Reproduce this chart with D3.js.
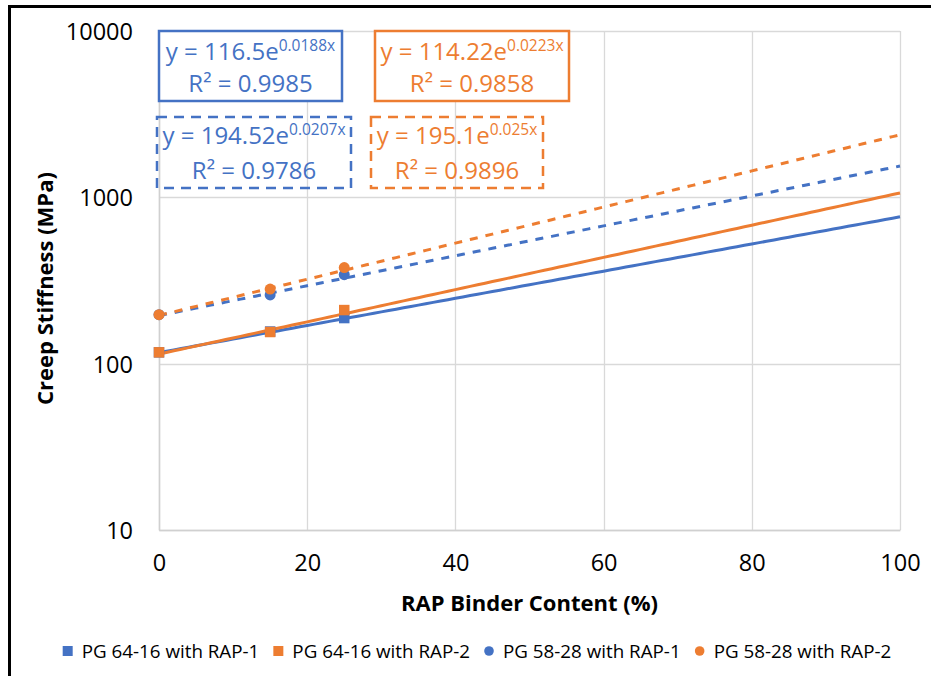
<!DOCTYPE html>
<html>
<head>
<meta charset="utf-8">
<script src="https://cdn.jsdelivr.net/npm/d3@7"></script>
<style>
  html, body { margin: 0; padding: 0; background: #fff; }
  svg { display: block; font-family: "Open Sans", "Liberation Sans", sans-serif; }
</style>
</head>
<body>
<svg id="chart" width="931" height="676"></svg>
<script>
// ---- data ----
const xValues = [0, 15, 25];
const pg6416Rap1 = [117, 156, 188];
const pg6416Rap2 = [117, 155, 210];
const pg5828Rap1 = [197, 259, 343];
const pg5828Rap2 = [197, 281, 378];
const seriesNames = ["PG 64-16 with RAP-1", "PG 64-16 with RAP-2", "PG 58-28 with RAP-1", "PG 58-28 with RAP-2"];
const trendA = [116.5, 114.22, 194.52, 195.1];
const trendB = [0.0188, 0.0223, 0.0207, 0.025];
const eqCoefLabels = ["116.5", "114.22", "194.52", "195.1"];
const eqExpLabels = ["0.0188x", "0.0223x", "0.0207x", "0.025x"];
const r2Labels = ["0.9985", "0.9858", "0.9786", "0.9896"];
const xTicks = [0, 20, 40, 60, 80, 100];
const yTicks = [10, 100, 1000, 10000];
const xTitle = "RAP Binder Content (%)";
const yTitle = "Creep Stiffness (MPa)";

const BLUE = "#4472C4", ORANGE = "#ED7D31";
const colors = [BLUE, ORANGE, BLUE, ORANGE];
const shapes = ["square", "square", "circle", "circle"];
const dashed = [false, false, true, true];
const seriesValues = [pg6416Rap1, pg6416Rap2, pg5828Rap1, pg5828Rap2];

const svg = d3.select("#chart");
const plot = { left: 159, right: 900, top: 31, bottom: 530 };

const x = d3.scaleLinear().domain([0, 100]).range([plot.left, plot.right]);
const y = d3.scaleLog().domain([10, 10000]).range([plot.bottom, plot.top]);

// outer frame
svg.append("path")
  .attr("d", "M9.5,676 V6.5 H931")
  .attr("fill", "none").attr("stroke", "#000").attr("stroke-width", 3);

// gridlines
const grid = svg.append("g");
grid.selectAll("line.h").data(yTicks).join("line")
  .attr("x1", plot.left).attr("x2", plot.right)
  .attr("y1", d => Math.round(y(d)) + 0.5).attr("y2", d => Math.round(y(d)) + 0.5)
  .attr("stroke", "#d9d9d9").attr("stroke-width", 1.3);
grid.selectAll("line.v").data(xTicks).join("line")
  .attr("y1", plot.top).attr("y2", plot.bottom)
  .attr("x1", d => Math.round(x(d)) + 0.5).attr("x2", d => Math.round(x(d)) + 0.5)
  .attr("stroke", "#d9d9d9").attr("stroke-width", 1.3);

// axes
const xAxis = svg.append("g").attr("transform", `translate(0,${plot.bottom})`)
  .call(d3.axisBottom(x).tickValues(xTicks).tickSize(0).tickPadding(24).tickFormat(d3.format("d")));
const yAxis = svg.append("g").attr("transform", `translate(${plot.left},0)`)
  .call(d3.axisLeft(y).tickValues(yTicks).tickSize(0).tickPadding(26).tickFormat(d3.format("d")));
[xAxis, yAxis].forEach(a => {
  a.select(".domain").attr("stroke", "#d0d0d0").attr("stroke-width", 1.5);
  a.selectAll("text").attr("font-size", "23.5px").attr("fill", "#000")
    .attr("font-family", "'Open Sans', sans-serif");
});
yAxis.selectAll("text").attr("dy", "0.36em");

// axis titles
svg.append("text").attr("x", (plot.left + plot.right) / 2).attr("y", 611)
  .attr("text-anchor", "middle").attr("font-size", "22px").attr("font-weight", "bold")
  .text(xTitle);
svg.append("text").attr("transform", `translate(53,${(plot.top + plot.bottom) / 2 + 8}) rotate(-90)`)
  .attr("text-anchor", "middle").attr("font-size", "22px").attr("font-weight", "bold")
  .text(yTitle);

// trendlines
const line = d3.line().x(d => x(d[0])).y(d => y(d[1]));
const xs = d3.range(0, 100.5, 1);
const order = [0, 1, 2, 3];
order.forEach(i => {
  svg.append("path")
    .datum(xs.map(v => [v, trendA[i] * Math.exp(trendB[i] * v)]))
    .attr("d", line)
    .attr("fill", "none").attr("stroke", colors[i]).attr("stroke-width", 3)
    .attr("stroke-dasharray", dashed[i] ? "8,8" : null);
});

// markers
const symSquare = d3.symbol().type(d3.symbolSquare).size(110);
const symCircle = d3.symbol().type(d3.symbolCircle).size(95);
order.forEach(i => {
  svg.append("g").selectAll("path").data(xValues.map((v, k) => [v, seriesValues[i][k]])).join("path")
    .attr("transform", d => `translate(${x(d[0])},${y(d[1])})`)
    .attr("d", shapes[i] === "square" ? symSquare : symCircle)
    .attr("fill", colors[i]);
});

// equation boxes
const boxes = [
  { x0: 159, x1: 342, y0: 31, y1: 101, b1: 60, b2: 92 },
  { x0: 375, x1: 569, y0: 31, y1: 101, b1: 60, b2: 92 },
  { x0: 157, x1: 351, y0: 117, y1: 188, b1: 144, b2: 179 },
  { x0: 371, x1: 543, y0: 117, y1: 188, b1: 144, b2: 179 }
];
boxes.forEach((b, i) => {
  svg.append("rect").attr("x", b.x0).attr("y", b.y0)
    .attr("width", b.x1 - b.x0).attr("height", b.y1 - b.y0)
    .attr("fill", i < 2 ? "#fff" : "none").attr("stroke", colors[i]).attr("stroke-width", 2.5)
    .attr("stroke-dasharray", dashed[i] ? "10,7" : null);
  const cx = (b.x0 + b.x1) / 2;
  const t1 = svg.append("text").attr("x", cx).attr("y", b.b1).attr("text-anchor", "middle")
    .attr("fill", colors[i]).attr("font-size", "24px");
  t1.append("tspan").text(`y = ${eqCoefLabels[i]}e`);
  t1.append("tspan").attr("font-size", "15.5px").attr("dy", "-9").text(eqExpLabels[i]);
  svg.append("text").attr("x", cx).attr("y", b.b2).attr("text-anchor", "middle")
    .attr("fill", colors[i]).attr("font-size", "24px")
    .text(`R² = ${r2Labels[i]}`);
});

// legend
const legend = svg.append("g");
let lx = 0;
seriesNames.forEach((name, i) => {
  const g = legend.append("g");
  if (shapes[i] === "square") {
    g.append("rect").attr("x", 0).attr("y", -5).attr("width", 10).attr("height", 10).attr("fill", colors[i]);
  } else {
    g.append("circle").attr("cx", 5).attr("cy", 0).attr("r", 4.8).attr("fill", colors[i]);
  }
  const t = g.append("text").attr("x", 19).attr("y", 0).attr("dy", "0.35em")
    .attr("font-size", "18.8px").attr("fill", "#000").text(name);
  g.attr("transform", `translate(${lx},0)`);
  lx += 19 + t.node().getComputedTextLength() + 14;
});
lx -= 14;
legend.attr("transform", `translate(${477 - lx / 2},651)`);
</script>
</body>
</html>
